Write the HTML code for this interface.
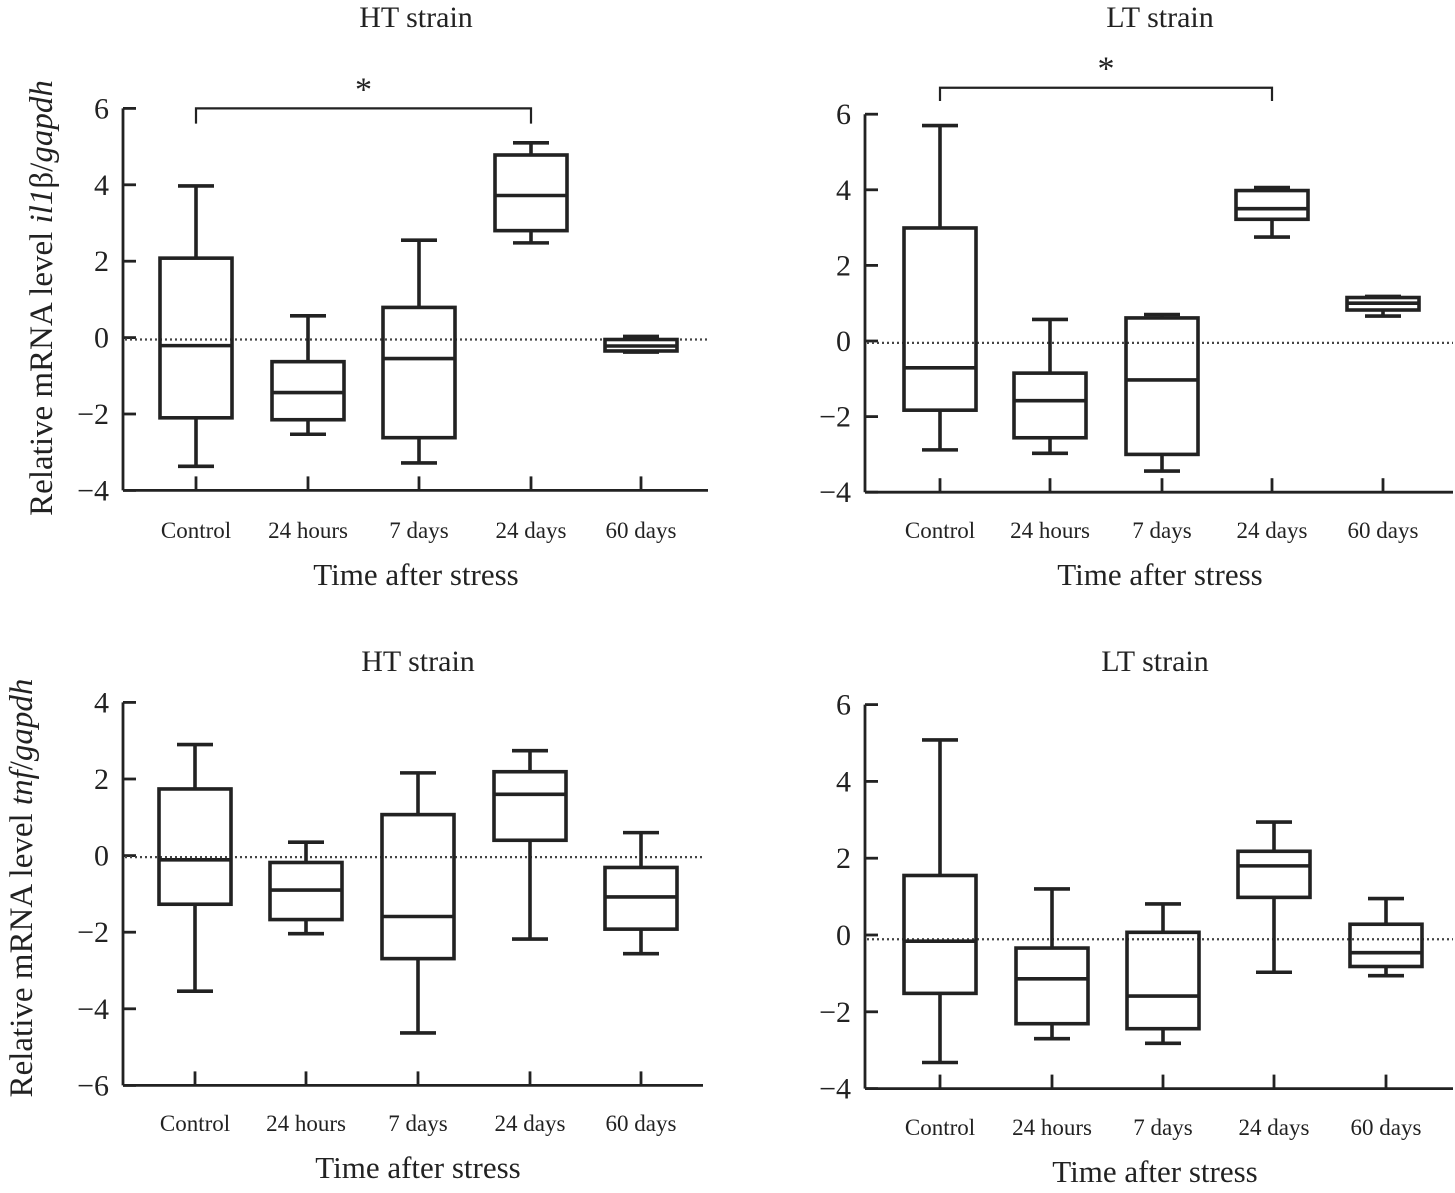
<!DOCTYPE html>
<html><head><meta charset="utf-8"><style>
html,body{margin:0;padding:0;background:#fff;}
svg{display:block;font-family:"Liberation Serif",serif;}
</style></head><body>
<svg id="fig" width="1455" height="1193" viewBox="0 0 1455 1193" xmlns="http://www.w3.org/2000/svg"></svg>
<script>
const categories = ["Control","24 hours","7 days","24 days","60 days"];
// [min, q1, median, q3, max]
const il1HT = [[-3.37,-2.1,-0.21,2.08,3.97],[-2.53,-2.15,-1.44,-0.63,0.57],[-3.28,-2.62,-0.55,0.79,2.55],[2.48,2.8,3.72,4.78,5.1],[-0.38,-0.35,-0.22,-0.05,0.03]];
const il1LT = [[-2.88,-1.83,-0.71,2.99,5.7],[-2.97,-2.56,-1.58,-0.85,0.57],[-3.44,-3.0,-1.03,0.61,0.7],[2.75,3.22,3.5,3.98,4.06],[0.66,0.82,1.0,1.15,1.18]];
const tnfHT = [[-3.54,-1.27,-0.11,1.74,2.9],[-2.04,-1.67,-0.9,-0.18,0.35],[-4.63,-2.69,-1.59,1.07,2.16],[-2.18,0.4,1.6,2.19,2.74],[-2.56,-1.92,-1.08,-0.31,0.6]];
const tnfLT = [[-3.32,-1.52,-0.16,1.55,5.08],[-2.7,-2.31,-1.14,-0.34,1.2],[-2.82,-2.44,-1.59,0.07,0.81],[-0.97,0.98,1.8,2.18,2.94],[-1.06,-0.82,-0.46,0.28,0.95]];
const ticksA = [-4,-2,0,2,4,6];
const ticksB = [-6,-4,-2,0,2,4];

const NS="http://www.w3.org/2000/svg";
const svg=document.getElementById('fig');
function mk(tag,attrs,parent){const e=document.createElementNS(NS,tag);for(const k in attrs)e.setAttribute(k,attrs[k]);(parent||svg).appendChild(e);return e;}
function txt(s,attrs,parent){const e=mk('text',attrs,parent);e.textContent=s;return e;}

function panel(opt){
  const g=mk('g',{});
  
  
  const y=v=>opt.y0-(v)*opt.unit;
  const xs=opt.cx;
  const yMin=opt.ticks[0];
  const yMax=opt.ticks[opt.ticks.length-1];
  const ya=mk('line',{x1:opt.ax,y1:y(yMin),x2:opt.ax,y2:y(yMax),stroke:'#222','stroke-width':2.8},g);
  
  
  const xa=mk('line',{x1:opt.ax,y1:y(yMin),x2:opt.xEnd,y2:y(yMin),stroke:'#222','stroke-width':2.8},g);
  
  
  opt.ticks.forEach(t=>{
    const tl=mk('line',{x1:opt.ax,y1:y(t),x2:opt.ax+13,y2:y(t),stroke:'#222','stroke-width':2.8},g);
    
    
    const lb=txt(t<0?'\u2212'+(-t):String(t),{x:opt.ax-14,y:y(t)+10,'text-anchor':'end','font-size':30,fill:'#222'},g);
    
    
  });
  const zl=mk('line',{x1:opt.ax+2,y1:y(opt.zero),x2:opt.xEnd,y2:y(opt.zero),stroke:'#444','stroke-width':2.2,'stroke-dasharray':'2,3'},g);
  
  
  categories.forEach((c,i)=>{
    const cx=xs[i];
    const tk=mk('line',{x1:cx,y1:y(yMin),x2:cx,y2:y(yMin)-14,stroke:'#222','stroke-width':2.8},g);
    
    
    const cl=txt(c,{x:cx,y:opt.catY,'text-anchor':'middle','font-size':23,fill:'#222'},g);
    
    
    const d=opt.data[i];
    const bg=mk('g',{stroke:'#222','stroke-width':3.6,fill:'none'},g);
    
    
    mk('line',{x1:cx,y1:y(d[0]),x2:cx,y2:y(d[1])},bg);
    mk('line',{x1:cx,y1:y(d[3]),x2:cx,y2:y(d[4])},bg);
    mk('line',{x1:cx-18,y1:y(d[0]),x2:cx+18,y2:y(d[0])},bg);
    mk('line',{x1:cx-18,y1:y(d[4]),x2:cx+18,y2:y(d[4])},bg);
    mk('rect',{x:cx-36,y:y(d[3]),width:72,height:Math.max(1,y(d[1])-y(d[3]))},bg);
    mk('line',{x1:cx-36,y1:y(d[2]),x2:cx+36,y2:y(d[2])},bg);
  });
  const t=txt(opt.title,{x:opt.titleX,y:opt.titleY,'text-anchor':'middle','font-size':30,fill:'#222'},g);
  
  
  const xt=txt('Time after stress',{x:opt.titleX,y:opt.xtY,'text-anchor':'middle','font-size':31,fill:'#222'},g);
  
  
  if(opt.sig){
    const s=opt.sig;
    const br=mk('path',{d:`M${xs[0]},${y(s.ends)} V${y(s.level)} H${xs[3]} V${y(s.ends)}`,stroke:'#222','stroke-width':2.2,fill:'none'},g);
    
    
    const st=txt('*',{x:(xs[0]+xs[3])/2,y:y(s.level)-8,'text-anchor':'middle','font-size':34,fill:'#222'},g);
    
    
  }
  if(opt.ylabel){
    const yl=mk('text',{x:0,y:0,transform:`translate(${opt.ylabel.x},${opt.ylabel.y}) rotate(-90)`,'text-anchor':'middle','font-size':33,fill:'#222'},g);
    
    
    yl.innerHTML=opt.ylabel.html;
  }
}

panel({name:'panel-il1b-ht',data:il1HT,ticks:ticksA,ax:123,xEnd:708,y0:337.6,unit:38.2,cx:[196,308,419,531,641],zero:-0.05,catY:538,title:'HT strain',titleX:416,titleY:27,xtY:585,
  sig:{level:6.0,ends:5.6},ylabel:{x:52,y:298,html:'Relative mRNA level <tspan font-style="italic">il1</tspan>β/<tspan font-style="italic">gapdh</tspan>'}});
panel({name:'panel-il1b-lt',data:il1LT,ticks:ticksA,ax:865,xEnd:1453,y0:341,unit:37.8,cx:[940,1050,1162,1272,1383],zero:-0.05,catY:538,title:'LT strain',titleX:1160,titleY:27,xtY:585,
  sig:{level:6.7,ends:6.35}});
panel({name:'panel-tnf-ht',data:tnfHT,ticks:ticksB,ax:123,xEnd:703,y0:855.6,unit:38.3,cx:[195,306,418,530,641],zero:-0.04,catY:1131,title:'HT strain',titleX:418,titleY:671,xtY:1178,
  ylabel:{x:32,y:888,html:'Relative mRNA level <tspan font-style="italic">tnf</tspan>/<tspan font-style="italic">gapdh</tspan>'}});
panel({name:'panel-tnf-lt',data:tnfLT,ticks:ticksA,ax:865,xEnd:1453,y0:935,unit:38.4,cx:[940,1052,1163,1274,1386],zero:-0.11,catY:1135,title:'LT strain',titleX:1155,titleY:671,xtY:1182});
</script>
</body></html>
